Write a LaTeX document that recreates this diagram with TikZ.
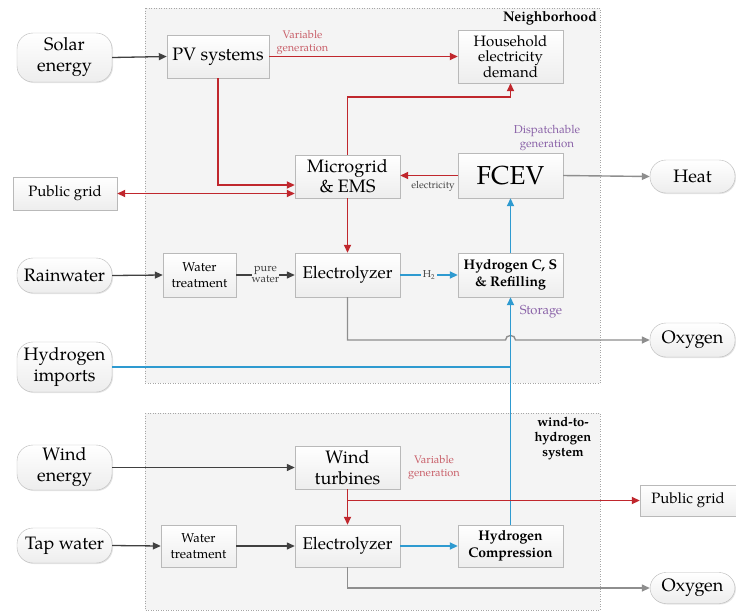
\documentclass[tikz,border=0pt]{standalone}
\usepackage{fontspec}
\setmainfont{TeX Gyre Pagella}
\usetikzlibrary{arrows.meta,shadows,calc}

\definecolor{elred}{HTML}{C0272D}
\definecolor{hblue}{HTML}{2E9AD0}
\definecolor{ogray}{HTML}{8E8E8E}
\definecolor{fdark}{HTML}{404040}
\definecolor{lblred}{HTML}{C9606A}
\definecolor{lblpurple}{HTML}{8A62A8}
\definecolor{zonebg}{HTML}{F4F4F4}

\newcommand{\fsz}[2]{\fontsize{#1}{#2}\selectfont}

\tikzset{
  box/.style={draw=gray!55, top color=white, bottom color=gray!14,
    drop shadow={shadow xshift=1pt, shadow yshift=-1pt, opacity=0.2, fill=gray},
    align=center, inner sep=1pt, font=\fsz{18}{21}},
  pill/.style={box, rounded corners=16pt},
  zone/.style={draw=gray!70, dash pattern=on 1pt off 1.5pt, fill=zonebg},
  tip/.style={-{Triangle[length=8pt,width=7pt]}},
  efl/.style={draw=elred, line width=1.7pt, tip},
  bfl/.style={draw=hblue, line width=1.7pt, tip},
  bline/.style={draw=hblue, line width=1.7pt},
  gfl/.style={draw=ogray, line width=1.4pt, tip},
  dfl/.style={draw=fdark, line width=1.3pt, tip},
  note/.style={align=center, inner sep=0pt},
}

\begin{document}
\begin{tikzpicture}[x=1pt, y=-1pt]
\useasboundingbox[fill=white] (0,0) rectangle (736,614);

% system boundaries
\draw[zone] (145,8) rectangle (600,383);
\draw[zone] (145,413) rectangle (600,610);
\node[anchor=north east, font=\bfseries\fsz{14}{16}, inner sep=0pt] (nbl) at (597,11) {Neighborhood};
\node[anchor=north, note, font=\bfseries\fsz{13}{15}] (w2hl) at (563,417) {wind-to-\\hydrogen\\system};

% neighborhood components
\node[pill, minimum width=95pt, minimum height=49pt] (solar) at (64.5,57.5) {Solar\\energy};
\node[box, minimum width=102pt, minimum height=43pt] (pv) at (218,56.5) {PV systems};
\node[box, minimum width=105pt, minimum height=53pt, font=\fsz{15}{15.5}] (house) at (510.5,56.5) {Household\\electricity\\demand};
\node[box, minimum width=105pt, minimum height=43pt, font=\fsz{18}{20}] (mg) at (347.5,176.5) {Microgrid\\\& EMS};
\node[box, minimum width=105pt, minimum height=45pt, font=\fsz{26}{28}] (fcev) at (510.5,175.5) {FCEV};
\node[box, minimum width=104pt, minimum height=33pt, font=\fsz{15}{17}] (pgl) at (65,193.5) {Public grid};
\node[pill, minimum width=85pt, minimum height=33pt] (heat) at (692.5,176.5) {Heat};
\node[pill, minimum width=95pt, minimum height=35pt] (rain) at (64.5,275.5) {Rainwater};
\node[box, minimum width=73pt, minimum height=44pt, font=\fsz{13}{16}] (wt1) at (199.5,275) {Water\\treatment};
\node[box, minimum width=105pt, minimum height=44pt, font=\fsz{17}{19}] (el1) at (347.5,275) {Electrolyzer};
\node[box, minimum width=105pt, minimum height=44pt, font=\bfseries\fsz{14}{16.5}] (hcs) at (510.5,275) {Hydrogen C, S\\\& Refilling};
\node[pill, minimum width=85pt, minimum height=34pt] (oxy1) at (692.5,340) {Oxygen};
\node[pill, minimum width=95pt, minimum height=50pt] (himp) at (64.5,367) {Hydrogen\\imports};

% wind-to-hydrogen components
\node[pill, minimum width=95pt, minimum height=45pt] (wind) at (64.5,467.5) {Wind\\energy};
\node[box, minimum width=105pt, minimum height=43pt, font=\fsz{18}{21.5}] (wtb) at (347.5,467.5) {Wind\\turbines};
\node[box, minimum width=96pt, minimum height=31pt, font=\fsz{15}{17}] (pgr) at (688,500.5) {Public grid};
\node[pill, minimum width=95pt, minimum height=35pt] (tap) at (64.5,545.5) {Tap water};
\node[box, minimum width=75pt, minimum height=42pt, font=\fsz{13}{16}] (wt2) at (198.5,546) {Water\\treatment};
\node[box, minimum width=105pt, minimum height=42pt, font=\fsz{17}{19}] (el2) at (347.5,546) {Electrolyzer};
\node[box, minimum width=105pt, minimum height=42pt, font=\bfseries\fsz{14}{17}] (hc) at (510.5,546) {Hydrogen\\Compression};
\node[pill, minimum width=85pt, minimum height=31pt] (oxy2) at (692.5,588) {Oxygen};

% electricity flows (neighborhood)
\draw[efl] (pv.east) -- (house.west);
\draw[efl] (pv.south) |- ($(mg.west)+(0,8.5)$);
\draw[efl, {Triangle[length=8pt,width=7pt]}-{Triangle[length=8pt,width=7pt]}] (pgl.east) -- (pgl.east -| mg.west);
\draw[efl] (mg.north) -- ++(0,-58) -| (house.south);
\draw[efl] (fcev.west) -- (fcev.west -| mg.east);
\draw[efl] (mg.south) -- (el1.north);

% hydrogen flows (neighborhood)
\draw[bfl] (hcs.north) -- (fcev.south);
\draw[bfl] (el1.east) -- node[fill=zonebg, inner sep=1.5pt, font=\fsz{10}{12}, text=fdark] (h2) {H\textsubscript{2}} (hcs.west);

% material inputs and outputs
\draw[dfl] (solar.east) -- (pv.west);
\draw[dfl] (rain.east) -- (wt1.west);
\draw[dfl] (wt1.east) -- node[fill=zonebg, inner sep=1.5pt, note, font=\fsz{11}{11}, text=fdark] (pw) {pure\\water} (el1.west);
\draw[gfl] (fcev.east) -- (heat.west);
\coordinate (ox1) at (el1.south |- oxy1.west);
\coordinate (hopl) at ($(hcs.south |- oxy1.west)+(-5,0)$);
\coordinate (hopr) at ($(hcs.south |- oxy1.west)+(5,0)$);
\draw[gfl] (el1.south) -- (ox1) -- (hopl) .. controls ($(hopl)+(0,-6)$) and ($(hopr)+(0,-6)$) .. (hopr) -- (oxy1.west);

% hydrogen supply to the refilling station
\coordinate (hjoin) at (hcs.south |- himp.east);
\draw[bline] (himp.east) -- (hjoin);
\draw[bfl] (hc.north) -- (hcs.south);

% wind-to-hydrogen flows
\draw[dfl] (wind.east) -- (wtb.west);
\coordinate (split) at (wtb.south |- pgr.west);
\draw[efl] (wtb.south) -- (split) -- (el2.north);
\draw[efl] (split) -- (pgr.west);
\draw[dfl] (tap.east) -- (wt2.west);
\draw[dfl] (wt2.east) -- (el2.west);
\draw[bfl] (el2.east) -- (hc.west);
\draw[gfl] (el2.south) |- (oxy2.west);

% flow annotations
\node[note, text=lblred, font=\fsz{11}{13}] (vg1) at (302.5,42.5) {Variable\\generation};
\node[note, text=lblred, font=\fsz{11}{13}] (vg2) at (434,468) {Variable\\generation};
\node[note, text=lblpurple, font=\fsz{11.5}{14}] (dg) at (547,137.5) {Dispatchable\\generation};
\node[note, text=lblpurple, font=\fsz{13}{15}] (st) at (541,312) {Storage};
\node[note, text=fdark, font=\fsz{10}{12}] (elc) at (433,186) {electricity};
\end{tikzpicture}
\end{document}
